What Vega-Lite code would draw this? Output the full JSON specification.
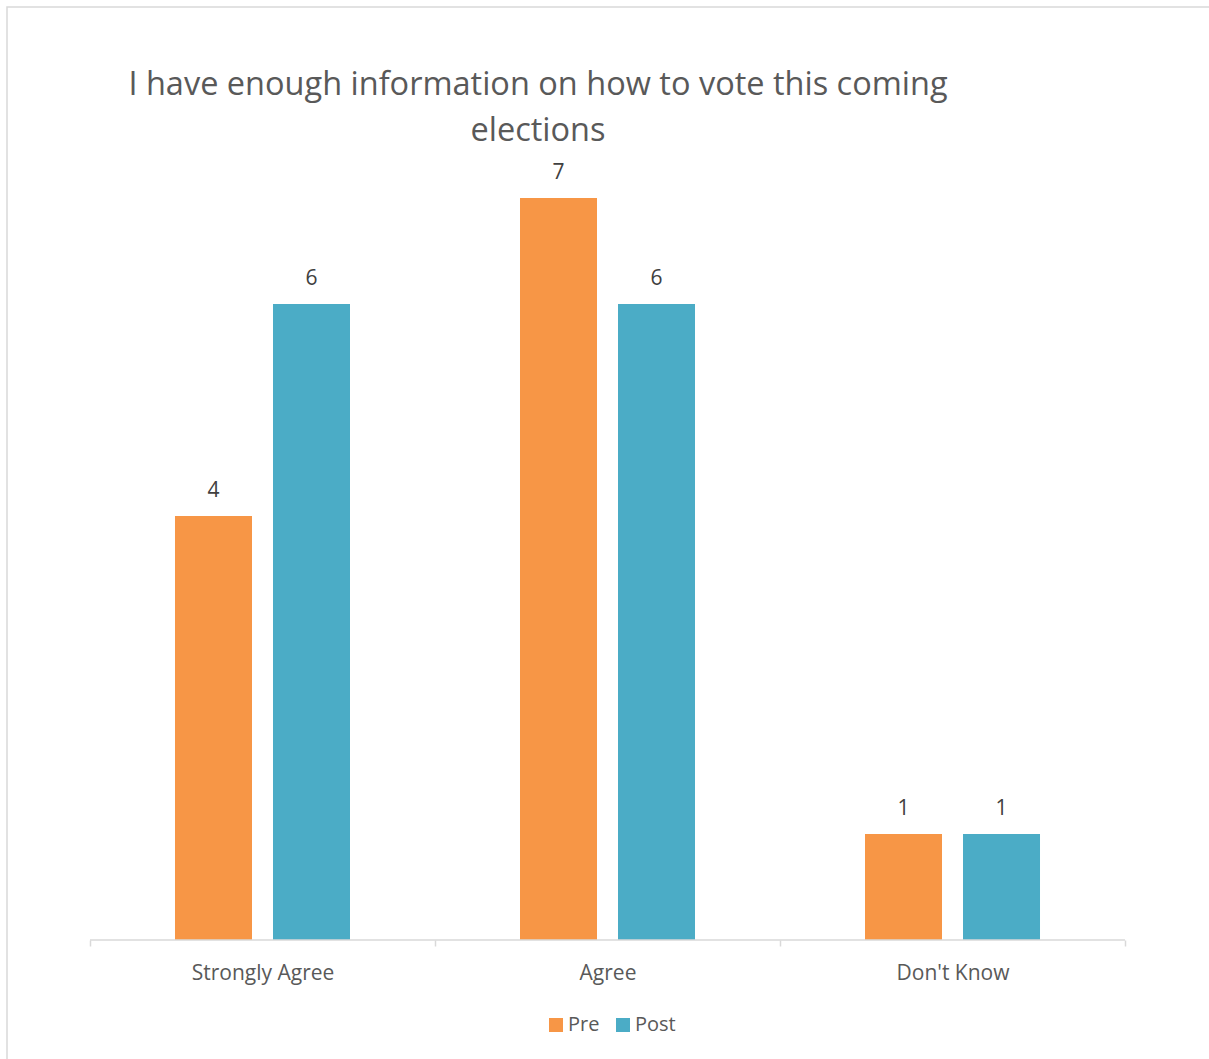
{
  "$schema": "https://vega.github.io/schema/vega-lite/v6.json",
  "autosize": {"type": "none"},
  "padding": {"left": 7, "top": 7, "right": 0, "bottom": 0},
  "width": 1210,
  "height": 1060,
  "background": "white",
  "config": {
    "view": {"stroke": "#d9d9d9", "strokeWidth": 1.5},
    "font": "Open Sans"
  },
  "title": {
    "text": ["I have enough information on how to vote this coming", "elections"],
    "fontSize": 32.5,
    "fontWeight": "normal",
    "color": "#595959",
    "font": "Open Sans",
    "anchor": "middle",
    "frame": "group",
    "dx": -74,
    "baseline": "top",
    "lineHeight": 46,
    "offset": -140
  },
  "datasets": {
    "bars": [
      {"category": "Strongly Agree", "series": "Pre", "value": 4},
      {"category": "Strongly Agree", "series": "Post", "value": 6},
      {"category": "Agree", "series": "Pre", "value": 7},
      {"category": "Agree", "series": "Post", "value": 6},
      {"category": "Don't Know", "series": "Pre", "value": 1},
      {"category": "Don't Know", "series": "Post", "value": 1}
    ],
    "baseline": [
      {"from": "Strongly Agree", "to": "Don't Know"}
    ]
  },
  "layer": [
    {
      "data": {"name": "bars"},
      "mark": {"type": "bar"},
      "encoding": {
        "x": {
          "field": "category",
          "type": "nominal",
          "sort": ["Strongly Agree", "Agree", "Don't Know"],
          "scale": {"domain": ["Strongly Agree", "Agree", "Don't Know"], "paddingInner": 0, "paddingOuter": 0.2536, "align": 0.4743},
          "axis": {
            "title": null,
            "orient": "bottom",
            "offset": -127,
            "domain": false,
            "tickBand": "extent",
            "tickSize": 6,
            "tickColor": "#d9d9d9",
            "tickWidth": 1.5,
            "labelAngle": 0,
            "labelFontSize": 21,
            "labelColor": "#595959",
            "labelFont": "Open Sans",
            "labelPadding": 16
          }
        },
        "xOffset": {
          "field": "series",
          "type": "nominal",
          "sort": ["Pre", "Post"],
          "scale": {"domain": ["Pre", "Post"], "paddingInner": 0.2143, "paddingOuter": 0.8673}
        },
        "y": {
          "field": "value",
          "type": "quantitative",
          "scale": {"domain": [-1.198, 8.802], "nice": false, "zero": false},
          "axis": null
        },
        "y2": {"datum": 0},
        "color": {
          "field": "series",
          "type": "nominal",
          "sort": ["Pre", "Post"],
          "scale": {"domain": ["Pre", "Post"], "range": ["#F79646", "#4BACC6"]},
          "legend": {
            "title": null,
            "orient": "none",
            "direction": "horizontal",
            "legendX": 539,
            "legendY": 1008,
            "symbolType": "square",
            "symbolSize": 196,
            "symbolStrokeWidth": 0,
            "labelFontSize": 20,
            "labelColor": "#595959",
            "labelFont": "Open Sans",
            "labelOffset": 2,
            "columnPadding": 13,
            "padding": 0
          }
        }
      }
    },
    {
      "data": {"name": "bars"},
      "mark": {"type": "text", "dy": -25, "fontSize": 21, "color": "#404040", "font": "Open Sans", "baseline": "middle"},
      "encoding": {
        "x": {"field": "category", "type": "nominal"},
        "xOffset": {"field": "series", "type": "nominal"},
        "y": {"field": "value", "type": "quantitative"},
        "text": {"field": "value", "type": "quantitative"}
      }
    },
    {
      "data": {"name": "baseline"},
      "mark": {"type": "rule", "color": "#d9d9d9", "strokeWidth": 1.5},
      "encoding": {
        "x": {"field": "from", "type": "nominal", "bandPosition": 0},
        "x2": {"field": "to", "bandPosition": 1},
        "y": {"datum": 0}
      }
    }
  ]
}
